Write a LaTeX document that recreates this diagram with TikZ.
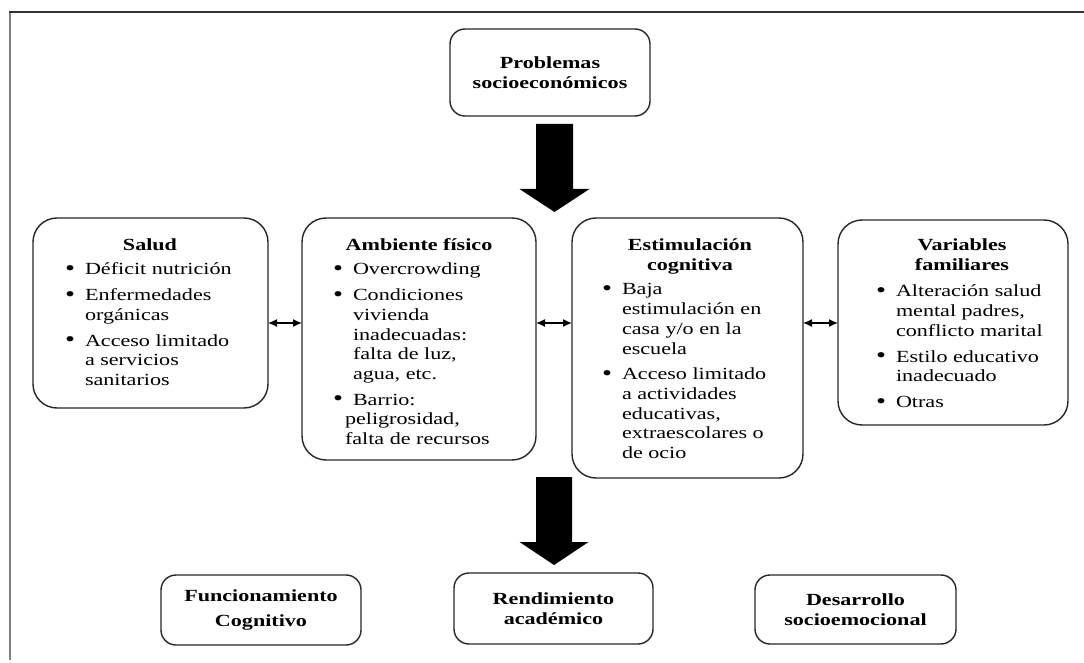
\documentclass[tikz,border=0pt]{standalone}
\usepackage{fontspec}
\setmainfont{Liberation Serif}[FakeStretch=1.3]
\usetikzlibrary{arrows.meta}
\newcommand\bul{\makebox[20pt][l]{\raisebox{-0.6pt}{\fontsize{22}{19.7}\selectfont\textbullet}}}
\newcommand\ind{\hspace*{20pt}}
\begin{document}
\begin{tikzpicture}[x=1pt,y=-1pt,
  every node/.style={inner sep=0pt, outer sep=0pt},
  bigbox/.style={draw=black!85, line width=1.4pt, rounded corners=24pt},
  smallbox/.style={draw=black!85, line width=1.4pt, rounded corners=15pt,
    font=\fontsize{17}{19.7}\selectfont\bfseries, align=center},
  hdr/.style={font=\fontsize{17}{19.7}\selectfont\bfseries, align=center, anchor=north},
  lst/.style={font=\fontsize{17}{19.7}\selectfont, align=left, anchor=north west},
  dbl/.style={{Latex[length=9pt,width=8pt]}-{Latex[length=9pt,width=8pt]}, line width=1.3pt},
  bigarrow/.style={fill=black}
]
\useasboundingbox (0,0) rectangle (1084,663);
% frame
\draw[gray, line width=2.5pt] (10,12) -- (10,660);
\draw[black!80, line width=1.5pt] (9,12) -- (1084,12);

% top box
\node[smallbox, minimum width=200pt, minimum height=87pt] (prob) at (550,72.5)
  {Problemas\\socioeconómicos};

% middle boxes
\node[bigbox, minimum width=235pt, minimum height=190pt] (salud) at (150.5,313) {};
\node[bigbox, minimum width=234pt, minimum height=242pt] (amb) at (419,339) {};
\node[bigbox, minimum width=231pt, minimum height=260pt] (estim) at (687.5,348) {};
\node[bigbox, minimum width=230pt, minimum height=205pt] (vari) at (953,322.5) {};

% headers
\node[hdr] (saludh) at (150,237.2) {\strut Salud};
\node[hdr] (ambh) at (419,237.2) {\strut Ambiente físico};
\node[hdr] (estimh) at (690,237.2) {\strut Estimulación\\cognitiva};
\node[hdr] (varih) at (962,237.2) {\strut Variables\\familiares};

% lists
\node[lst] (saludl) at (65,261.2)
  {\strut\bul Déficit nutrición\\[6pt]
   \bul Enfermedades\\ \ind orgánicas\\[6pt]
   \bul Acceso limitado\\ \ind a servicios\\ \ind sanitarios};
\node[lst] (ambl) at (333,261.2)
  {\strut\bul Overcrowding\\[6pt]
   \bul Condiciones\\ \ind vivienda\\ \ind inadecuadas:\\ \ind falta de luz,\\ \ind agua, etc.\\[6pt]
   \bul Barrio:\\ \hspace*{12pt}peligrosidad,\\ \hspace*{12pt}falta de recursos};
\node[lst] (estiml) at (602,281.2)
  {\strut\bul Baja\\ \ind estimulación en\\ \ind casa y/o en la\\ \ind escuela\\[6pt]
   \bul Acceso limitado\\ \ind a actividades\\ \ind educativas,\\ \ind extraescolares o\\ \ind de ocio};
\node[lst] (varil) at (876,283.2)
  {\strut\bul Alteración salud\\ \ind mental padres,\\ \ind conflicto marital\\[6pt]
   \bul Estilo educativo\\ \ind inadecuado\\[6pt]
   \bul Otras};

% bottom boxes
\node[smallbox, minimum width=200pt, minimum height=70pt] (func) at (261,610)
  {Funcionamiento\\[6pt]Cognitivo};
\node[smallbox, minimum width=199pt, minimum height=71pt] (rend) at (553.5,608.5)
  {Rendimiento\\académico};
\node[smallbox, minimum width=201pt, minimum height=69pt] (desa) at (855.5,609.5)
  {Desarrollo\\socioemocional};

% double arrows
\coordinate (ly) at (0,323);
\draw[dbl] (salud.east |- ly) -- (amb.west |- ly);
\draw[dbl] (amb.east |- ly) -- (estim.west |- ly);
\draw[dbl] (estim.east |- ly) -- (vari.west |- ly);

% big arrows
\coordinate (a1s) at (554.5,124);
\fill[bigarrow] (a1s) ++(-18.5,0) -- ++(37,0) -- ++(0,65) -- ++(16.5,0)
  -- ++(-35,23) -- ++(-35,-23) -- ++(16.5,0) -- cycle;
\coordinate (a2s) at (554,477);
\fill[bigarrow] (a2s) ++(-18,0) -- ++(36,0) -- ++(0,65) -- ++(16.5,0)
  -- ++(-34.5,23) -- ++(-34.5,-23) -- ++(16.5,0) -- cycle;
\end{tikzpicture}
\end{document}
